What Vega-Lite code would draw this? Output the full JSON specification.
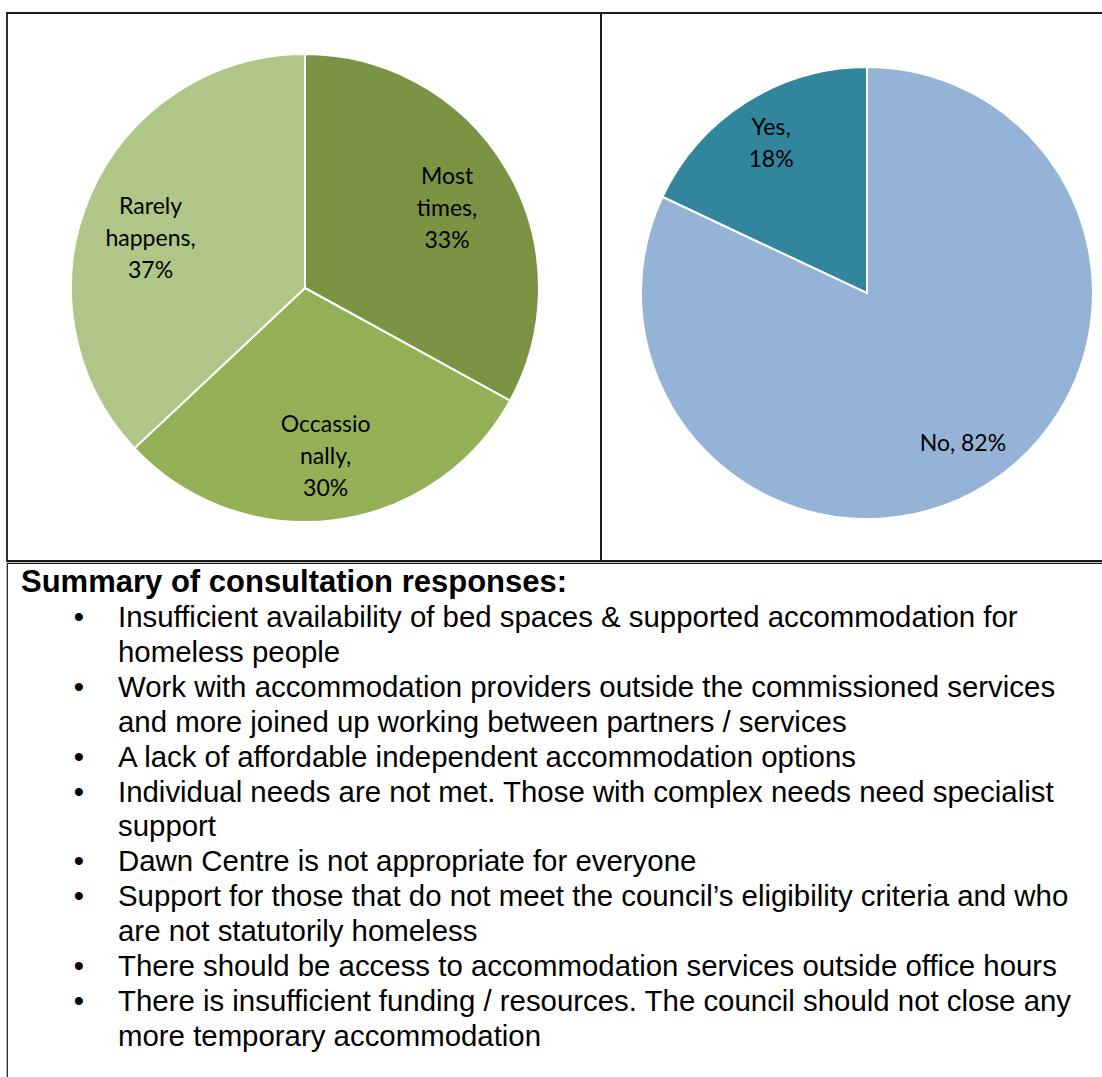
{
  "$schema": "https://vega.github.io/schema/vega-lite/v6.json",
  "padding": {"left": 6, "top": 12, "right": 0, "bottom": 0},
  "autosize": {"type": "pad"},
  "background": "white",
  "spacing": 0,
  "config": {"view": {"stroke": "#1a1a1a", "strokeWidth": 1.8}, "concat": {"spacing": 0}},
  "datasets": {
    "pie1": [
      {"category": "Most times", "value": 33, "ord": 1, "label": "Most\ntimes,\n33%"},
      {"category": "Occassionally", "value": 30, "ord": 2, "label": "Occassio\nnally,\n30%"},
      {"category": "Rarely happens", "value": 37, "ord": 3, "label": "Rarely\nhappens,\n37%"}
    ],
    "pie2": [
      {"category": "No", "value": 82, "ord": 1, "label": "No, 82%"},
      {"category": "Yes", "value": 18, "ord": 2, "label": "Yes,\n18%"}
    ],
    "lines": [
      {"line": 0, "kind": "heading", "text": "Summary of consultation responses:"},
      {"line": 1, "kind": "bullet", "text": "Insufficient availability of bed spaces & supported accommodation for"},
      {"line": 2, "kind": "cont", "text": "homeless people"},
      {"line": 3, "kind": "bullet", "text": "Work with accommodation providers outside the commissioned services"},
      {"line": 4, "kind": "cont", "text": "and more joined up working between partners / services"},
      {"line": 5, "kind": "bullet", "text": "A lack of affordable independent accommodation options"},
      {"line": 6, "kind": "bullet", "text": "Individual needs are not met. Those with complex needs need specialist"},
      {"line": 7, "kind": "cont", "text": "support"},
      {"line": 8, "kind": "bullet", "text": "Dawn Centre is not appropriate for everyone"},
      {"line": 9, "kind": "bullet", "text": "Support for those that do not meet the council’s eligibility criteria and who"},
      {"line": 10, "kind": "cont", "text": "are not statutorily homeless"},
      {"line": 11, "kind": "bullet", "text": "There should be access to accommodation services outside office hours"},
      {"line": 12, "kind": "bullet", "text": "There is insufficient funding / resources. The council should not close any"},
      {"line": 13, "kind": "cont", "text": "more temporary accommodation"}
    ]
  },
  "vconcat": [
    {
      "spacing": 0,
      "bounds": "flush",
      "resolve": {"scale": {"color": "independent", "theta": "independent"}},
      "hconcat": [
        {
          "width": 594,
          "height": 548,
          "view": {"stroke": "#1a1a1a", "strokeWidth": 1.8},
          "data": {"name": "pie1"},
          "encoding": {
            "theta": {"field": "value", "type": "quantitative", "stack": true},
            "order": {"field": "ord", "type": "quantitative"},
            "color": {"field": "category", "type": "nominal", "legend": null,
              "scale": {"domain": ["Most times", "Occassionally", "Rarely happens"], "range": ["#7a9443", "#93b056", "#afc687"]}}
          },
          "layer": [
            {"mark": {"type": "arc", "outerRadius": 234, "stroke": "white", "strokeWidth": 2, "x": 298, "y": 275}},
            {"mark": {"type": "text", "radius": 165, "x": 298, "y": 275, "dy": -27, "font": "Lato", "fontSize": 23, "lineBreak": "\n", "lineHeight": 32, "align": "center", "baseline": "middle"},
             "encoding": {"text": {"condition": {"test": "datum.ord !== 3", "field": "label"}, "value": ""}, "color": {"value": "black"}}},
            {"mark": {"type": "text", "radius": 165, "x": 298, "y": 275, "dy": -15, "dx": -3, "font": "Lato", "fontSize": 23, "lineBreak": "\n", "lineHeight": 32, "align": "center", "baseline": "middle"},
             "encoding": {"text": {"condition": {"test": "datum.ord === 3", "field": "label"}, "value": ""}, "color": {"value": "black"}}}
          ]
        },
        {
          "width": 532,
          "height": 548,
          "view": {"stroke": "#1a1a1a", "strokeWidth": 1.8},
          "data": {"name": "pie2"},
          "encoding": {
            "theta": {"field": "value", "type": "quantitative", "stack": true},
            "order": {"field": "ord", "type": "quantitative"},
            "color": {"field": "category", "type": "nominal", "legend": null,
              "scale": {"domain": ["No", "Yes"], "range": ["#95b3d7", "#31859c"]}}
          },
          "layer": [
            {"mark": {"type": "arc", "outerRadius": 226, "stroke": "white", "strokeWidth": 2, "x": 266, "y": 280}},
            {"mark": {"type": "text", "radius": 179, "x": 266, "y": 280, "dy": -14, "font": "Lato", "fontSize": 23, "lineBreak": "\n", "lineHeight": 32, "align": "center", "baseline": "middle"},
             "encoding": {"text": {"condition": {"test": "indexof(datum.label, '\\n') >= 0", "field": "label"}, "value": ""}, "color": {"value": "black"}}},
            {"mark": {"type": "text", "radius": 179, "x": 266, "y": 280, "dy": 0, "font": "Lato", "fontSize": 23, "align": "center", "baseline": "middle"},
             "encoding": {"text": {"condition": {"test": "indexof(datum.label, '\\n') < 0", "field": "label"}, "value": ""}, "color": {"value": "black"}}}
          ]
        }
      ]
    },
    {
      "width": 1126,
      "height": 530,
      "view": {"stroke": "#1a1a1a", "strokeWidth": 1.2},
      "data": {"name": "lines"},
      "encoding": {
        "y": {"field": "line", "type": "quantitative", "axis": null,
          "scale": {"domain": [-0.573, 14.605], "reverse": true, "nice": false, "zero": false}}
      },
      "layer": [
        {"transform": [{"filter": "datum.kind === 'heading'"}],
         "mark": {"type": "text", "x": 14, "align": "left", "baseline": "middle", "font": "Liberation Sans", "fontSize": 31, "fontWeight": "bold", "color": "black"},
         "encoding": {"text": {"field": "text"}}},
        {"transform": [{"filter": "datum.kind !== 'heading'"}],
         "mark": {"type": "text", "x": 111, "align": "left", "baseline": "middle", "font": "Liberation Sans", "fontSize": 29.4, "color": "black"},
         "encoding": {"text": {"field": "text"}}},
        {"transform": [{"filter": "datum.kind === 'bullet'"}],
         "mark": {"type": "text", "x": 72, "align": "center", "baseline": "middle", "font": "Liberation Sans", "fontSize": 29.4, "color": "black"},
         "encoding": {"text": {"value": "•"}}}
      ]
    }
  ]
}
